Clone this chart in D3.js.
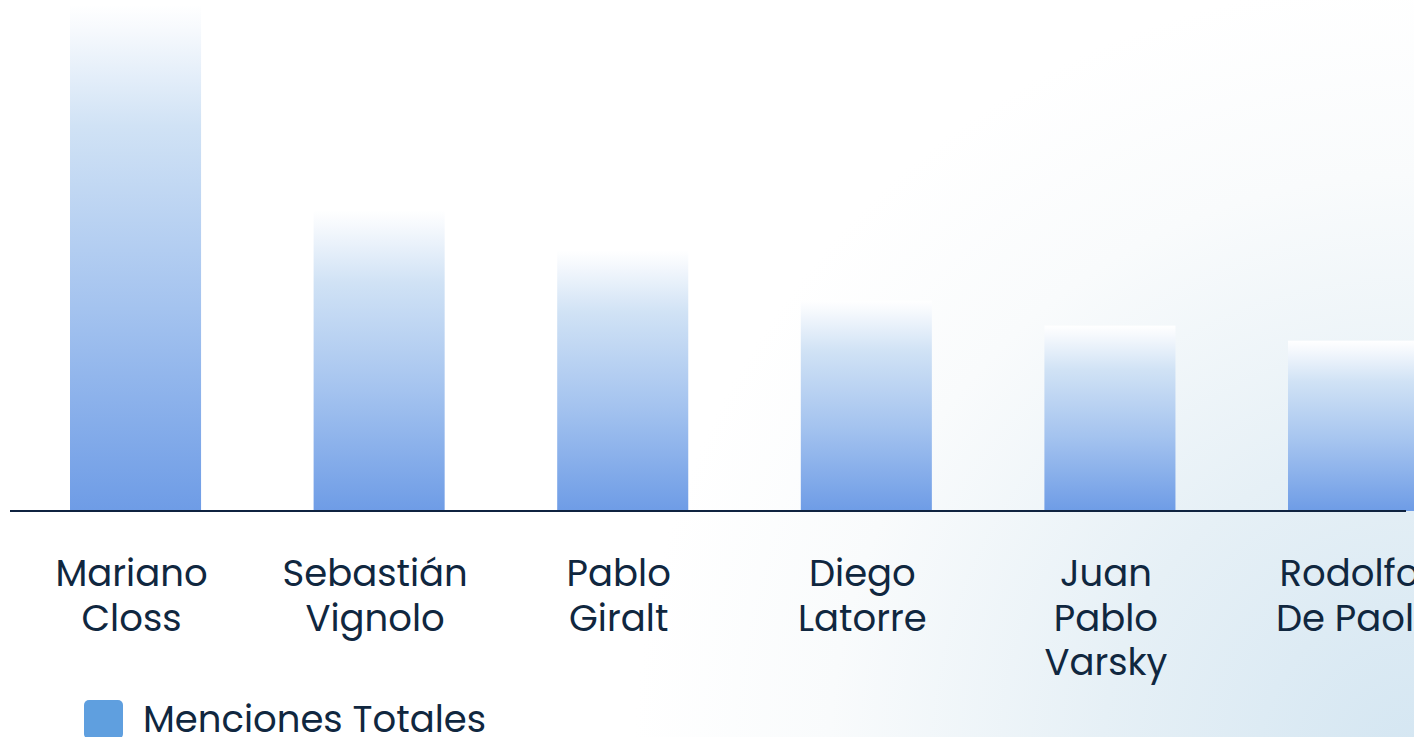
<!DOCTYPE html>
<html><head><meta charset="utf-8">
<script src="https://cdn.jsdelivr.net/npm/d3@7"></script>
<style>html,body{margin:0;padding:0;overflow:hidden;background:#fff}svg{display:block}</style>
</head><body>
<svg id="c" width="1414" height="737"></svg>
<script>
const categories = ["Mariano Closs","Sebastián Vignolo","Pablo Giralt","Diego Latorre","Juan Pablo Varsky","Rodolfo De Paoli"];
const labelLines = [["Mariano","Closs"],["Sebastián","Vignolo"],["Pablo","Giralt"],["Diego","Latorre"],["Juan","Pablo","Varsky"],["Rodolfo","De Paoli"]];
const values = [101, 60, 52, 42, 37, 34];
const seriesName = "Menciones Totales";

const W = 1414, H = 737;
const svg = d3.select("#c");
const defs = svg.append("defs");

const bg = defs.append("radialGradient").attr("id","bg").attr("gradientUnits","userSpaceOnUse")
  .attr("cx",1414).attr("cy",760).attr("r",780);
bg.append("stop").attr("offset","0%").attr("stop-color","#d4e6f2");
bg.append("stop").attr("offset","40%").attr("stop-color","#e6f0f6");
bg.append("stop").attr("offset","75%").attr("stop-color","#f9fbfc");
bg.append("stop").attr("offset","100%").attr("stop-color","#ffffff");
svg.append("rect").attr("width",W).attr("height",H).attr("fill","url(#bg)");

const g = defs.append("linearGradient").attr("id","bar").attr("x1",0).attr("y1",0).attr("x2",0).attr("y2",1);
g.append("stop").attr("offset","0%").attr("stop-color","#ffffff");
g.append("stop").attr("offset","5%").attr("stop-color","#f6f9fd");
g.append("stop").attr("offset","24%").attr("stop-color","#d0e2f5");
g.append("stop").attr("offset","60%").attr("stop-color","#a4c3ef");
g.append("stop").attr("offset","100%").attr("stop-color","#6e9ce6");

const axisY = 511, topY = 5;
const step = 243.6, pIn = 0.462, pOut = 0.246;
const x0 = 70 - pOut*step;
const x = d3.scaleBand().domain(categories)
  .range([x0, x0 + step*(categories.length - pIn + 2*pOut)])
  .paddingInner(pIn).paddingOuter(pOut);
const y = d3.scaleLinear().domain([0, 101]).range([axisY, topY]);

svg.append("g").selectAll("rect").data(values).join("rect")
  .attr("x",(d,i)=>x(categories[i]))
  .attr("width",x.bandwidth())
  .attr("y",d=>y(d))
  .attr("height",d=>axisY-y(d))
  .attr("fill","url(#bar)");

svg.append("line").attr("x1",10).attr("x2",1406).attr("y1",axisY).attr("y2",axisY)
  .attr("stroke","#0f2340").attr("stroke-width",2);

const font = "Poppins, Inter, 'Noto Sans', sans-serif";
const lab = svg.append("g").attr("font-family",font).attr("font-size",37).attr("fill","#10273f").attr("text-anchor","middle");
categories.forEach((c,i)=>{
  const cx = x(c)+x.bandwidth()/2 - 4;
  const t = lab.append("text").attr("x", cx).attr("y",586);
  labelLines[i].forEach((l,j)=>t.append("tspan").attr("x",cx).attr("dy", j===0?0:44.5).text(l));
});

svg.append("rect").attr("x",84).attr("y",700).attr("width",39).attr("height",39).attr("rx",5).attr("fill","#5f9fdf");
svg.append("text").attr("x",143).attr("y",732).attr("font-family",font).attr("font-size",37).attr("fill","#10273f").text(seriesName);
</script>
</body></html>
